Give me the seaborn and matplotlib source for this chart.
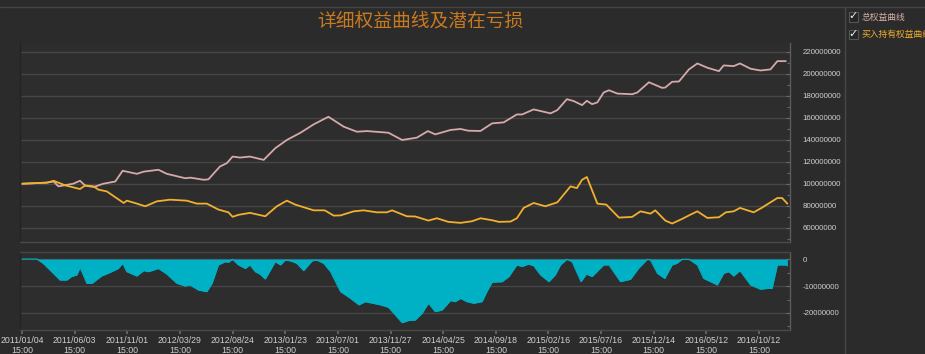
"""
详细权益曲线及潜在亏损 - 权益曲线 + 回撤面积图
"""

import numpy as np
import pandas as pd
import seaborn as sns
import matplotlib.pyplot as plt
from matplotlib import font_manager
from matplotlib.lines import Line2D
from matplotlib.patches import Rectangle
from matplotlib.ticker import MultipleLocator, FuncFormatter

# --- données (x = index de jour de bourse) ---
equity_idx = [0, 47, 60, 69, 97, 110, 120, 136, 154, 177, 191, 218, 231, 259, 275, 310, 320,
              345, 354, 376, 389, 400, 414, 433, 459, 481, 503, 529, 554, 582, 611, 636, 655,
              696, 722, 750, 771, 785, 814, 833, 848, 871, 893, 915, 940, 950, 972, 1004, 1017,
              1035, 1048, 1064, 1073, 1083, 1093, 1105, 1115, 1131, 1159, 1169, 1191, 1216,
              1222, 1235, 1248, 1267, 1283, 1302, 1324, 1333, 1352, 1364, 1384, 1403, 1422,
              1435, 1451]
equity_val = [100.0, 101.0, 102.0, 97.6, 100.0, 102.7, 98.2, 97.0, 100.0, 102.0, 111.8, 109.0,
              111.0, 112.7, 109.0, 105.0, 105.5, 103.6, 104.0, 115.7, 118.7, 124.7, 123.8,
              124.7, 121.7, 132.3, 139.8, 146.4, 154.0, 160.9, 151.9, 147.3, 147.9, 146.4,
              139.8, 141.9, 147.9, 144.9, 148.9, 149.8, 148.2, 148.0, 154.9, 155.8, 163.0,
              163.0, 167.6, 164.0, 167.0, 176.9, 175.2, 171.5, 175.4, 172.4, 174.0, 183.0,
              185.0, 182.0, 181.4, 183.0, 192.3, 187.2, 187.5, 192.7, 193.0, 204.0, 209.4,
              205.5, 202.4, 207.6, 207.0, 209.4, 204.6, 203.0, 204.0, 211.5, 211.5]

hold_idx = [0, 47, 60, 82, 110, 120, 136, 145, 161, 193, 199, 214, 234, 256, 281, 313, 332,
            351, 373, 392, 400, 411, 433, 462, 484, 503, 519, 554, 575, 592, 605, 630, 649,
            674, 693, 703, 731, 747, 772, 788, 810, 833, 855, 871, 893, 906, 928, 940, 953,
            972, 994, 1017, 1042, 1054, 1064, 1073, 1093, 1110, 1134, 1159, 1175, 1194, 1203,
            1222, 1235, 1254, 1270, 1283, 1302, 1324, 1337, 1352, 1364, 1390, 1405, 1435,
            1444, 1454]
hold_val = [100.0, 101.0, 102.7, 98.5, 95.2, 98.5, 97.6, 94.6, 93.0, 82.5, 84.6, 82.5, 79.5,
            84.0, 85.5, 84.6, 81.9, 81.9, 76.5, 74.0, 69.9, 71.7, 73.5, 70.4, 79.5, 84.6, 81.0,
            75.8, 75.8, 71.0, 71.2, 74.9, 75.8, 74.0, 74.0, 75.8, 70.4, 70.2, 66.5, 68.6, 65.3,
            64.4, 65.9, 68.6, 66.8, 65.3, 65.6, 68.6, 78.0, 82.5, 79.5, 83.1, 97.6, 96.0,
            103.6, 106.1, 81.9, 81.0, 69.2, 69.8, 74.9, 72.8, 75.8, 66.5, 63.8, 68.0, 71.9,
            74.9, 68.9, 69.5, 74.0, 74.9, 78.0, 74.0, 78.0, 87.0, 87.0, 81.9]

dd_idx = [0, 28, 40, 53, 72, 85, 94, 104, 110, 123, 133, 151, 167, 183, 191, 199, 218, 231,
          240, 259, 275, 294, 310, 319, 335, 351, 361, 373, 386, 392, 400, 411, 424, 433, 443,
          452, 462, 481, 491, 500, 510, 522, 535, 551, 560, 573, 586, 605, 624, 640, 652, 681,
          696, 709, 722, 734, 747, 760, 772, 785, 798, 814, 823, 833, 845, 858, 874, 883, 893,
          912, 925, 940, 950, 962, 972, 985, 1001, 1013, 1023, 1035, 1045, 1062, 1072, 1083,
          1105, 1115, 1137, 1156, 1171, 1188, 1194, 1207, 1221, 1235, 1244, 1254, 1267, 1283,
          1295, 1321, 1333, 1343, 1352, 1364, 1384, 1403, 1416, 1425, 1435, 1451, 1454]
dd_val = [0.0, 0.0, -1.6, -4.1, -7.8, -7.8, -6.5, -5.9, -3.1, -9.0, -9.0, -6.3, -5.0, -3.5,
          -1.6, -4.7, -6.3, -4.3, -4.7, -3.5, -5.6, -9.0, -10.0, -9.6, -11.5, -12.1, -9.0,
          -2.2, -1.0, -1.2, -0.1, -2.2, -3.5, -2.2, -4.7, -5.6, -7.4, -1.0, -2.2, -0.4, -0.7,
          -1.6, -4.3, -0.7, -0.4, -1.6, -4.7, -12.1, -14.6, -17.0, -15.8, -17.0, -17.9, -20.7,
          -23.6, -22.8, -22.6, -20.1, -16.4, -19.5, -18.9, -15.4, -15.8, -14.6, -15.8, -16.4,
          -15.8, -12.1, -8.6, -8.4, -6.5, -2.2, -2.8, -1.9, -2.5, -5.9, -8.4, -5.9, -2.2, -0.1,
          -1.0, -8.4, -5.6, -6.5, -2.2, -2.2, -8.4, -7.5, -3.5, -0.1, -0.4, -5.3, -7.2, -2.2,
          -1.6, -0.1, -0.1, -2.2, -7.2, -9.6, -5.3, -4.7, -6.3, -4.3, -9.6, -11.2, -10.9,
          -10.9, -2.2, -2.2, -2.5]

tick_idx = [0, 100, 200, 300, 400, 500, 600, 700, 800, 900, 1000, 1100, 1200, 1300, 1400]
tick_dates = ["2011/01/04", "2011/06/03", "2011/11/01", "2012/03/29", "2012/08/24",
              "2013/01/23", "2013/07/01", "2013/11/27", "2014/04/25", "2014/09/18",
              "2015/02/16", "2015/07/16", "2015/12/14", "2016/05/12", "2016/10/12"]

title = "详细权益曲线及潜在亏损"
legend_names = ["总权益曲线", "买入持有权益曲线"]

BG = "#2b2b2b"
GRID = "#464646"
TXT = "#cfcfcf"
PINK = "#d6a9a9"
ORANGE = "#f2b02e"
CYAN = "#00b1c6"

sns.set_theme(style="dark")
plt.rcParams["font.family"] = ["Noto Sans CJK SC", "DejaVu Sans"]

# police étroite pour les graduations si elle existe
installed = {f.name for f in font_manager.fontManager.ttflist}
if "Liberation Sans Narrow" in installed:
    tick_family, ysize, xsize = "Liberation Sans Narrow", 6.6, 7.0
else:
    tick_family, ysize, xsize = "Liberation Sans", 5.7, 6.3

eq = pd.DataFrame({"idx": equity_idx, "val": np.array(equity_val) * 1e6})
hd = pd.DataFrame({"idx": hold_idx, "val": np.array(hold_val) * 1e6})
dd = pd.DataFrame({"idx": dd_idx, "val": np.array(dd_val) * 1e6})

W, H = 925, 354
fig = plt.figure(figsize=(W / 100, H / 100), dpi=100, facecolor=BG)
ax1 = fig.add_axes([20 / W, (H - 242) / H, 770 / W, 199 / H])
ax2 = fig.add_axes([20 / W, (H - 330) / H, 770 / W, 78 / H])

for ax in (ax1, ax2):
    ax.set_facecolor("#2d2d2d")
    ax.set_xlim(-4, 1459)
    ax.yaxis.tick_right()
    ax.grid(False)
    ax.spines["top"].set_visible(False)
    ax.spines["left"].set_color("#232323")
    ax.spines["right"].set_color("#5a5a5a")
    ax.spines["bottom"].set_color("#4a4a4a")
    for s in ax.spines.values():
        s.set_linewidth(1)
    ax.tick_params(axis="y", which="both", direction="in", color="#6a6a6a", length=3,
                   width=0.8, pad=9, right=True, left=False)
    ax.tick_params(axis="y", which="minor", length=2)

# --- courbe d'équité ---
sns.lineplot(data=eq, x="idx", y="val", ax=ax1, color=PINK, linewidth=1.3)
sns.lineplot(data=hd, x="idx", y="val", ax=ax1, color=ORANGE, linewidth=1.3)
ax1.set_ylim(47e6, 228e6)
ax1.set_yticks(np.arange(60e6, 221e6, 20e6))
ax1.yaxis.set_minor_locator(MultipleLocator(10e6))
for v in np.arange(60e6, 221e6, 20e6):
    ax1.axhline(v, color=GRID, lw=1, zorder=0)
ax1.set_xticks([])
ax1.set_xlabel("")
ax1.set_ylabel("")

# --- drawdown ---
ax2.fill_between(dd["idx"], dd["val"], 0, color=CYAN, linewidth=0, zorder=2)
sns.lineplot(data=dd, x="idx", y="val", ax=ax2, color=CYAN, linewidth=0.8)
ax2.set_ylim(-26.3e6, 2.6e6)
ax2.set_yticks([0, -10e6, -20e6])
ax2.yaxis.set_minor_locator(MultipleLocator(5e6))
for v in [0, -10e6, -20e6]:
    ax2.axhline(v, color=GRID, lw=1, zorder=0)
ax2.spines["top"].set_visible(True)
ax2.spines["top"].set_color("#464646")
ax2.set_xticks(tick_idx)
ax2.set_xticklabels([d + "\n15:00" for d in tick_dates], linespacing=1.05)
ax2.tick_params(axis="x", direction="out", length=3, color="#6a6a6a", pad=1.5, bottom=True)
ax2.set_xlabel("")
ax2.set_ylabel("")

fmt = FuncFormatter(lambda v, p: f"{int(round(v))}")
for ax in (ax1, ax2):
    ax.yaxis.set_major_formatter(fmt)
    for lab in ax.get_yticklabels():
        lab.set_fontfamily(tick_family)
        lab.set_fontsize(ysize)
        lab.set_color(TXT)
for lab in ax2.get_xticklabels():
    lab.set_fontfamily(tick_family)
    lab.set_fontsize(xsize)
    lab.set_color(TXT)

# titre
fig.text(420 / W, 1 - 21 / H, title, ha="center", va="center", fontsize=13.5,
         color="#c97a1f")

# cadre: ligne du haut et séparateur à droite
fig.add_artist(Line2D([0, 1], [1 - 7 / H, 1 - 7 / H], color="#444444", lw=1))
fig.add_artist(Line2D([845 / W, 845 / W], [0, 1 - 7 / H], color="#474747", lw=1))

# légende (cases à cocher)
for i, (name, col) in enumerate(zip(legend_names, ["#d6b0a8", ORANGE])):
    yc = 17 + i * 17.5
    fig.add_artist(Rectangle((849 / W, 1 - (yc + 4.5) / H), 9 / W, 9 / H,
                             transform=fig.transFigure, facecolor="#262626",
                             edgecolor="#555555", lw=0.8))
    fig.text(853.5 / W, 1 - (yc - 0.5) / H, "\u2713", ha="center", va="center",
             fontsize=8, color="#eeeeee", family="DejaVu Sans", fontweight="bold")
    fig.text(862 / W, 1 - yc / H, name, ha="left", va="center", fontsize=6.3, color=col)

fig.savefig("out.png", dpi=100, facecolor=BG)
